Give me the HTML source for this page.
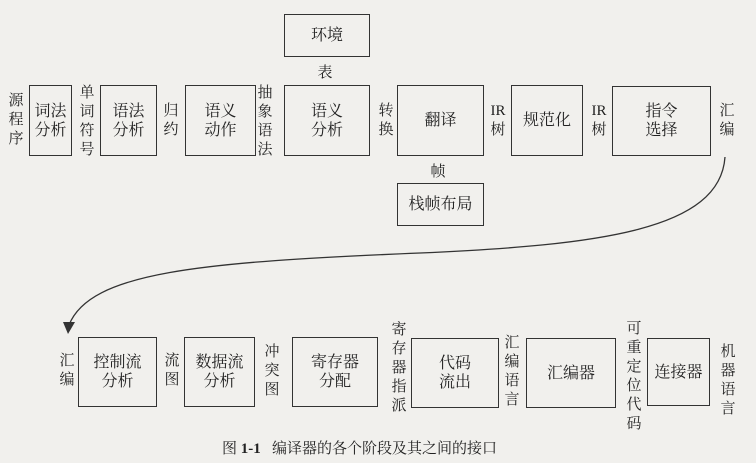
<!DOCTYPE html>
<html><head><meta charset="utf-8"><style>
body{margin:0;width:756px;height:463px;background:#f1f0ed;overflow:hidden;position:relative;font-family:"Liberation Serif","Noto Serif CJK SC",serif;color:#222}
.b{position:absolute;border:1.6px solid #333;box-sizing:border-box;display:flex;align-items:center;justify-content:center;text-align:center;font-size:16px;line-height:19px}
.l{position:absolute;font-size:15px;line-height:19px;text-align:center;width:18px}
</style></head><body>
<svg width="756" height="463" style="position:absolute;left:0;top:0">
<path d="M725,157 C720,230 600,245 420,253 C200,262 90,272 69,325" fill="none" stroke="#333" stroke-width="1.3"/>
<polygon points="63,322 75,322 68,334" fill="#333"/>
</svg>
<div class="b" style="left:284px;top:14px;width:86px;height:43px">环境</div>
<div class="l" style="left:316px;top:64px">表</div>
<div class="l" style="left:7px;top:92px">源<br>程<br>序</div>
<div class="b" style="left:29px;top:85px;width:43px;height:71px">词法<br>分析</div>
<div class="l" style="left:78px;top:84px">单<br>词<br>符<br>号</div>
<div class="b" style="left:100px;top:85px;width:57px;height:71px">语法<br>分析</div>
<div class="l" style="left:162px;top:102px">归<br>约</div>
<div class="b" style="left:185px;top:85px;width:71px;height:71px">语义<br>动作</div>
<div class="l" style="left:256px;top:84px">抽<br>象<br>语<br>法</div>
<div class="b" style="left:284px;top:85px;width:86px;height:71px">语义<br>分析</div>
<div class="l" style="left:377px;top:102px">转<br>换</div>
<div class="b" style="left:397px;top:85px;width:87px;height:71px">翻译</div>
<div class="l" style="left:487px;top:102px;width:22px">IR<br>树</div>
<div class="b" style="left:511px;top:85px;width:72px;height:71px">规范化</div>
<div class="l" style="left:588px;top:102px;width:22px">IR<br>树</div>
<div class="b" style="left:612px;top:86px;width:99px;height:70px">指令<br>选择</div>
<div class="l" style="left:718px;top:102px">汇<br>编</div>
<div class="l" style="left:429px;top:163px">帧</div>
<div class="b" style="left:397px;top:183px;width:87px;height:43px">栈帧布局</div>

<div class="l" style="left:58px;top:352px">汇<br>编</div>
<div class="b" style="left:78px;top:337px;width:79px;height:70px">控制流<br>分析</div>
<div class="l" style="left:163px;top:352px">流<br>图</div>
<div class="b" style="left:184px;top:337px;width:71px;height:70px">数据流<br>分析</div>
<div class="l" style="left:263px;top:343px">冲<br>突<br>图</div>
<div class="b" style="left:292px;top:337px;width:86px;height:70px">寄存器<br>分配</div>
<div class="l" style="left:390px;top:321px">寄<br>存<br>器<br>指<br>派</div>
<div class="b" style="left:411px;top:338px;width:88px;height:70px">代码<br>流出</div>
<div class="l" style="left:503px;top:334px">汇<br>编<br>语<br>言</div>
<div class="b" style="left:526px;top:338px;width:90px;height:70px">汇编器</div>
<div class="l" style="left:625px;top:320px">可<br>重<br>定<br>位<br>代<br>码</div>
<div class="b" style="left:647px;top:338px;width:63px;height:68px">连接器</div>
<div class="l" style="left:719px;top:343px">机<br>器<br>语<br>言</div>
<div style="position:absolute;left:222px;top:437px;font-size:15px;white-space:nowrap">图 <b>1-1</b>&nbsp;&nbsp;&nbsp;编译器的各个阶段及其之间的接口</div>
</body></html>
